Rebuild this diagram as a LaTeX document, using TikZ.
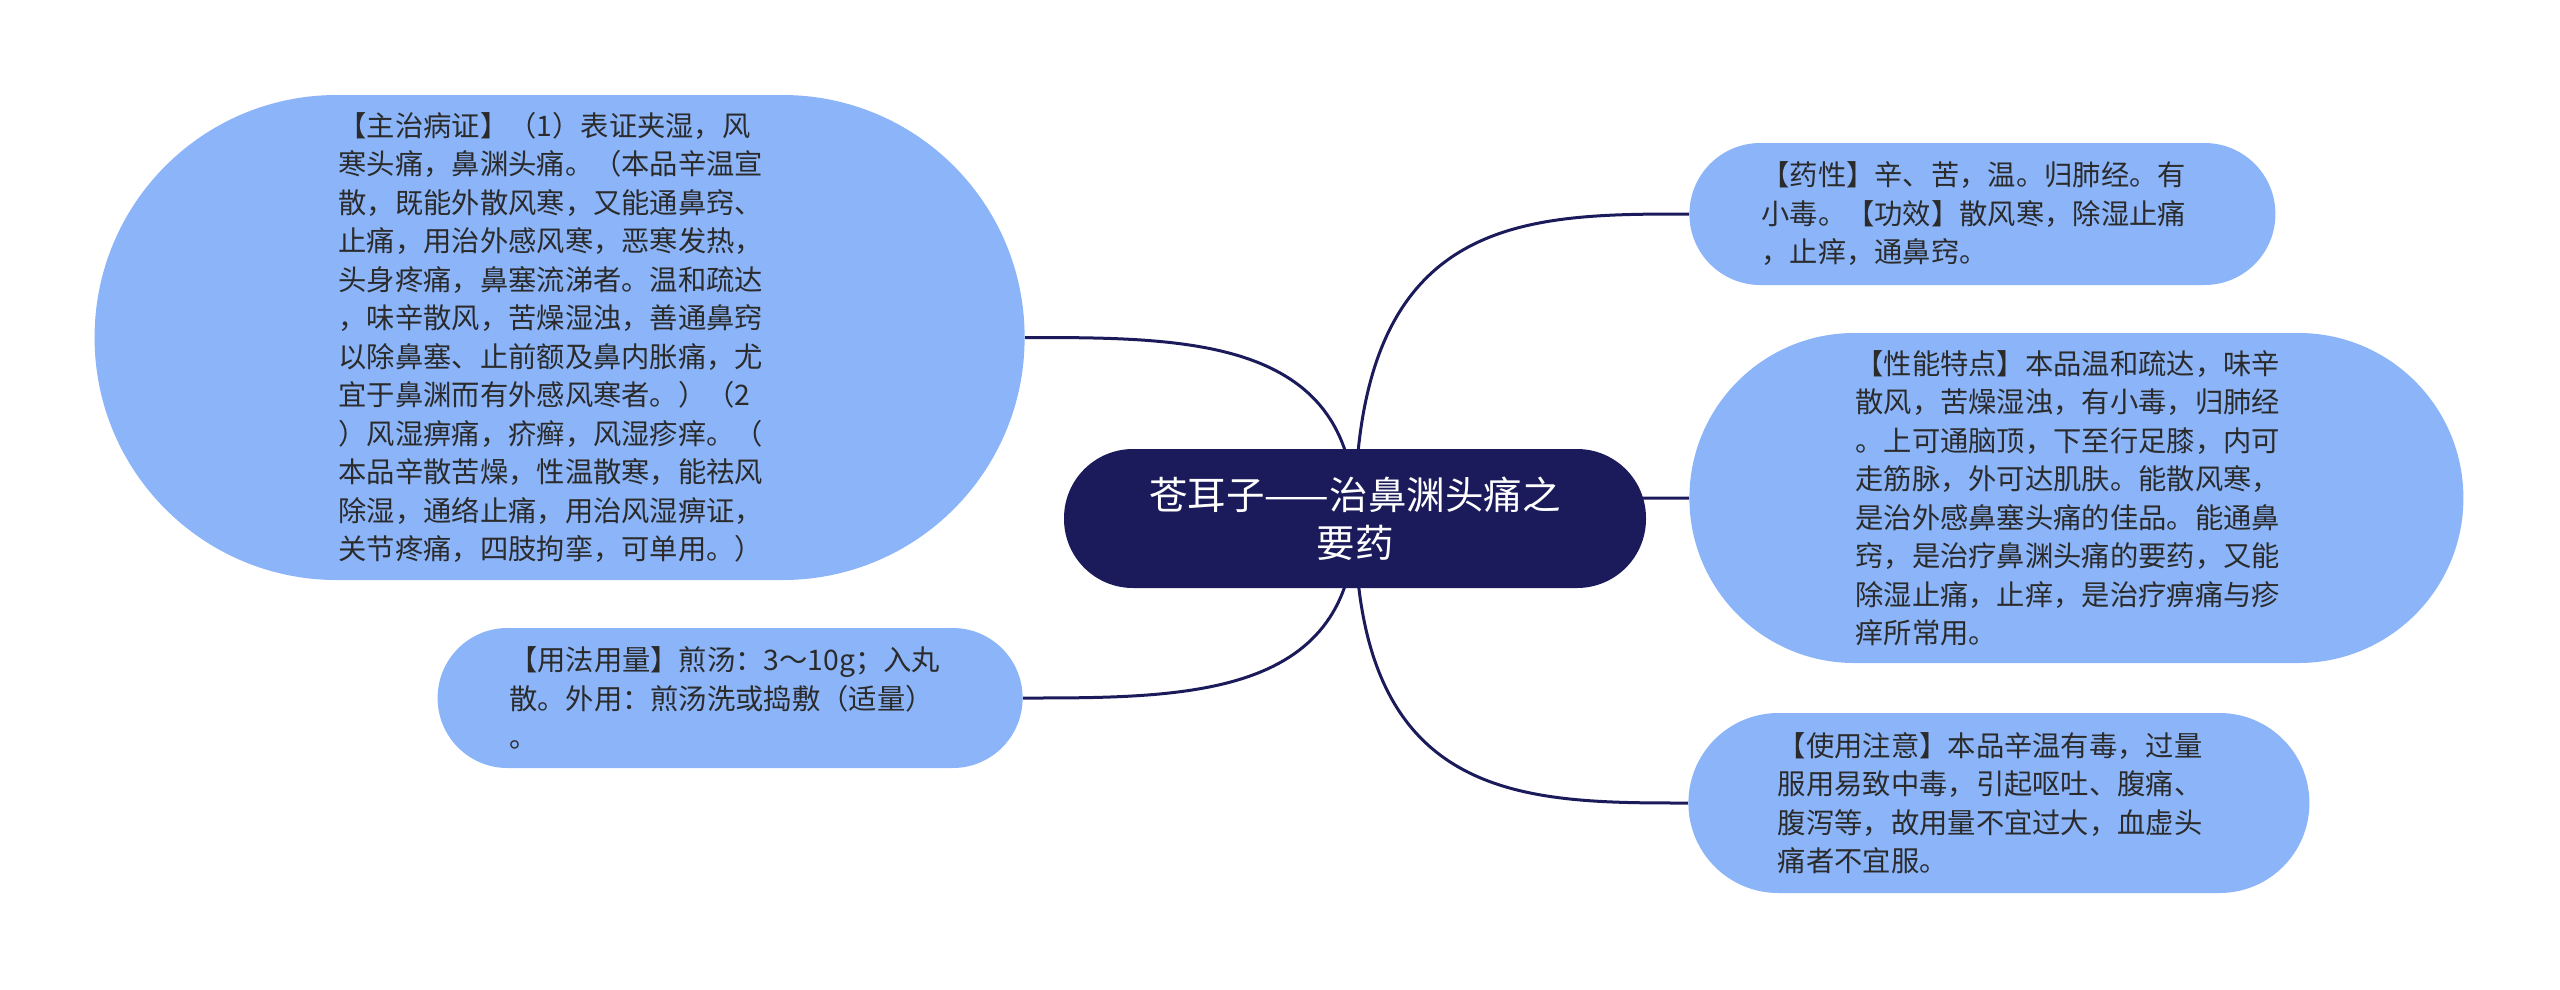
\documentclass[tikz,border=0pt]{standalone}
\usepackage{fontspec}
\setmainfont{Noto Sans CJK SC}
\usepackage{xcolor}
\usetikzlibrary{positioning, backgrounds, calc}

\definecolor{rootblue}{HTML}{1B1B5B}
\definecolor{leafblue}{HTML}{8BB4F9}
\definecolor{leaftext}{HTML}{2B2B2B}

\begin{document}
\begin{tikzpicture}[
    x=1pt, y=-1pt,
    rootbox/.style={fill=rootblue, text=white, align=center, inner sep=0pt,
                    font=\fontsize{38.5pt}{48pt}\selectfont},
    leaf/.style={fill=leafblue, text=leaftext, align=left, text width=442pt, inner sep=0pt,
                 font=\fontsize{28.3pt}{38.5pt}\selectfont},
    link/.style={draw=rootblue, line width=3pt},
]
\useasboundingbox (0,0) rectangle (2560,989);

% === Root ===
\node[rootbox, minimum width=582pt, minimum height=139pt, rounded corners=69pt] (root) at (1355,518.5)
    {苍耳子——治鼻渊头痛之\\要药};

% === Left branches ===
\node[leaf, left=39pt of root, yshift=181pt, minimum width=930pt, minimum height=485pt, rounded corners=242pt] (zhuzhi)
    {【主治病证】（1）表证夹湿，风\\
     寒头痛，鼻渊头痛。（本品辛温宣\\
     散，既能外散风寒，又能通鼻窍、\\
     止痛，用治外感风寒，恶寒发热，\\
     头身疼痛，鼻塞流涕者。温和疏达\\
     ，味辛散风，苦燥湿浊，善通鼻窍\\
     以除鼻塞、止前额及鼻内胀痛，尤\\
     宜于鼻渊而有外感风寒者。）（2\\
     ）风湿痹痛，疥癣，风湿疹痒。（\\
     本品辛散苦燥，性温散寒，能祛风\\
     除湿，通络止痛，用治风湿痹证，\\
     关节疼痛，四肢拘挛，可单用。）};
\node[leaf, left=41pt of root, yshift=-179.5pt, minimum width=585pt, minimum height=140pt, rounded corners=69.9pt] (yongfa)
    {【用法用量】煎汤：3～10g；入丸\\
     散。外用：煎汤洗或捣敷（适量）\\
     。};

% === Right branches ===
\node[leaf, right=43pt of root, yshift=304.5pt, minimum width=586pt, minimum height=142pt, rounded corners=70.9pt] (yaoxing)
    {【药性】辛、苦，温。归肺经。有\\
     小毒。【功效】散风寒，除湿止痛\\
     ，止痒，通鼻窍。};
\node[leaf, right=43pt of root, yshift=20.5pt, minimum width=774pt, minimum height=330pt, rounded corners=164.9pt] (xingneng)
    {【性能特点】本品温和疏达，味辛\\
     散风，苦燥湿浊，有小毒，归肺经\\
     。上可通脑顶，下至行足膝，内可\\
     走筋脉，外可达肌肤。能散风寒，\\
     是治外感鼻塞头痛的佳品。能通鼻\\
     窍，是治疗鼻渊头痛的要药，又能\\
     除湿止痛，止痒，是治疗痹痛与疹\\
     痒所常用。};
\node[leaf, right=42pt of root, yshift=-284.5pt, minimum width=621pt, minimum height=180pt, rounded corners=89.9pt] (shiyong)
    {【使用注意】本品辛温有毒，过量\\
     服用易致中毒，引起呕吐、腹痛、\\
     腹泻等，故用量不宜过大，血虚头\\
     痛者不宜服。};

% === Connectors (behind the nodes) ===
\begin{scope}[on background layer]
\draw[link] (root.center) .. controls (root.center |- zhuzhi.east) and ($(root.center |- zhuzhi.east)!0.5!(zhuzhi.east)$) .. (zhuzhi.east);
\draw[link] (root.center) .. controls (root.center |- yongfa.east) and ($(root.center |- yongfa.east)!0.5!(yongfa.east)$) .. (yongfa.east);
\draw[link] (root.center) .. controls (root.center |- yaoxing.west) and ($(root.center |- yaoxing.west)!0.5!(yaoxing.west)$) .. (yaoxing.west);
\draw[link] (root.center) .. controls (root.center |- xingneng.west) and ($(root.center |- xingneng.west)!0.5!(xingneng.west)$) .. (xingneng.west);
\draw[link] (root.center) .. controls (root.center |- shiyong.west) and ($(root.center |- shiyong.west)!0.5!(shiyong.west)$) .. (shiyong.west);
\end{scope}

\end{tikzpicture}
\end{document}
